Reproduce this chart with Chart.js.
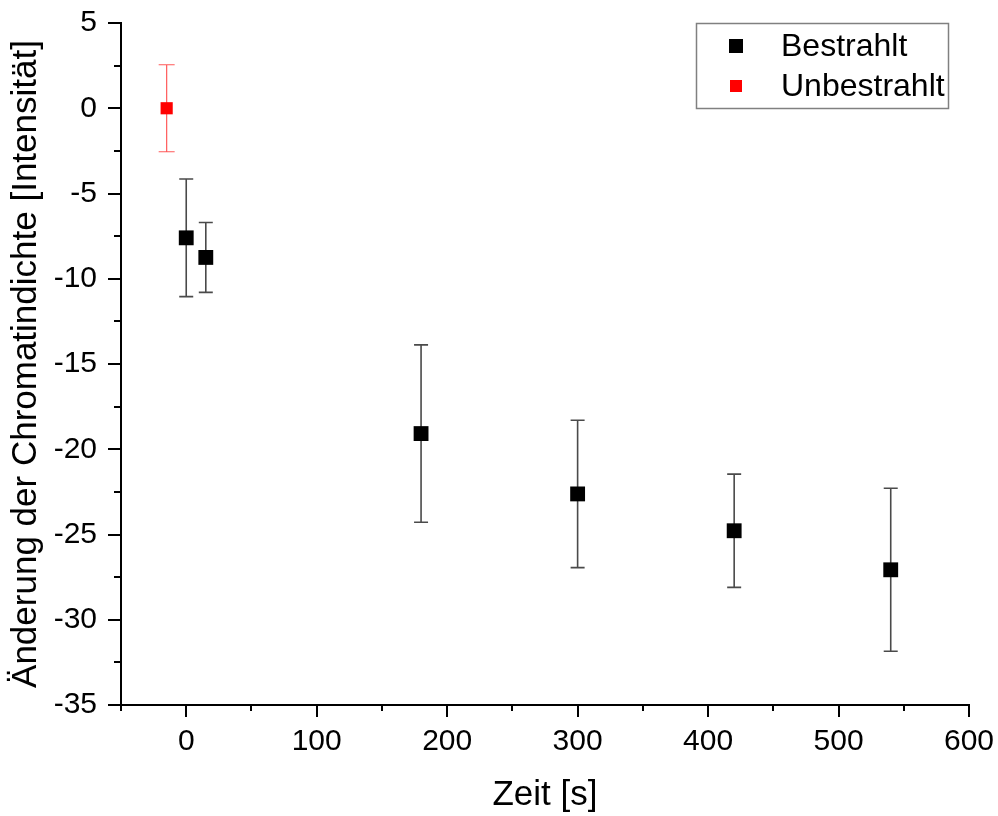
<!DOCTYPE html>
<html>
<head>
<meta charset="utf-8">
<script src="https://cdn.jsdelivr.net/npm/chart.js@4"></script>
<style>
  body { margin: 0; background: #fff; }
  canvas { display: block; }
</style>
</head>
<body>
<canvas id="chart" width="998" height="816"></canvas>
<script>
// Bestrahlt (irradiated) series
const bestrahltZeit = [0, 15, 180, 300, 420, 540];
const bestrahltWert = [-7.6, -8.75, -19.08, -22.62, -24.78, -27.07];
const bestrahltFehler = [3.45, 2.05, 5.2, 4.32, 3.32, 4.78];

// Unbestrahlt (control) series
const unbestrahltZeit = [-15];
const unbestrahltWert = [0];
const unbestrahltFehler = [2.55];

const FONT = '"Liberation Sans", Arial, sans-serif';

function toPoints(xs, ys, errs) {
  return xs.map((x, i) => ({ x: x, y: ys[i], err: errs[i] }));
}

// draw vertical error bars with caps, before the markers
const errorBars = {
  id: 'errorBars',
  beforeDatasetsDraw(chart) {
    const ctx = chart.ctx;
    const xs = chart.scales.x, ys = chart.scales.y;
    chart.data.datasets.forEach((ds) => {
      ctx.save();
      ctx.strokeStyle = ds.errorColor;
      ctx.lineWidth = ds.errorWidth;
      ds.data.forEach((p) => {
        const px = xs.getPixelForValue(p.x);
        const top = ys.getPixelForValue(p.y + p.err);
        const bot = ys.getPixelForValue(p.y - p.err);
        const c = ds.capHalf;
        ctx.beginPath();
        ctx.moveTo(px, top); ctx.lineTo(px, bot);
        ctx.moveTo(px - c, top); ctx.lineTo(px + c, top);
        ctx.moveTo(px - c, bot); ctx.lineTo(px + c, bot);
        ctx.stroke();
      });
      ctx.restore();
    });
  }
};

// outward major/minor tick marks like the origin plot
const tickMarks = {
  id: 'tickMarks',
  afterDraw(chart) {
    const ctx = chart.ctx;
    const xs = chart.scales.x, ys = chart.scales.y;
    const area = chart.chartArea;
    ctx.save();
    ctx.strokeStyle = '#000';
    ctx.lineWidth = 2;
    ctx.beginPath();
    for (let v = ys.min; v <= ys.max + 1e-9; v += 2.5) {
      const py = Math.round(ys.getPixelForValue(v));
      const len = (Math.abs(v % 5) < 1e-9) ? 13 : 7;
      ctx.moveTo(area.left, py); ctx.lineTo(area.left - len, py);
    }
    for (let v = xs.min; v <= xs.max + 1e-9; v += 50) {
      const px = Math.round(xs.getPixelForValue(v));
      const len = (Math.abs(v % 100) < 1e-9) ? 12 : 6;
      ctx.moveTo(px, area.bottom); ctx.lineTo(px, area.bottom + len);
    }
    ctx.stroke();
    ctx.restore();
  }
};

// boxed legend in the top right corner
const boxLegend = {
  id: 'boxLegend',
  afterDraw(chart) {
    const ctx = chart.ctx;
    const area = chart.chartArea;
    const w = 252, h = 85;
    const bx = area.right - 21 - w, by = area.top;
    ctx.save();
    ctx.fillStyle = '#fff';
    ctx.fillRect(bx, by, w, h);
    ctx.strokeStyle = '#808080';
    ctx.lineWidth = 1.5;
    ctx.strokeRect(bx + 0.5, by + 0.5, w, h);
    ctx.font = '32px ' + FONT;
    ctx.textBaseline = 'middle';
    ctx.textAlign = 'left';
    chart.data.datasets.forEach((ds, i) => {
      const cy = by + 23 + i * 40;
      const s = ds.legendSize;
      ctx.fillStyle = ds.backgroundColor;
      ctx.fillRect(bx + 40 - s / 2, cy - s / 2, s, s);
      ctx.fillStyle = '#000';
      ctx.fillText(ds.label, bx + 85, cy + 1);
    });
    ctx.restore();
  }
};

new Chart(document.getElementById('chart'), {
  type: 'scatter',
  data: {
    datasets: [
      {
        label: 'Bestrahlt',
        data: toPoints(bestrahltZeit, bestrahltWert, bestrahltFehler),
        backgroundColor: '#000000',
        borderColor: '#000000',
        pointStyle: 'rect',
        pointRadius: 10.5,
        pointBorderWidth: 0,
        errorColor: '#4a4a4a',
        errorWidth: 1.6,
        capHalf: 7,
        legendSize: 14,
      },
      {
        label: 'Unbestrahlt',
        data: toPoints(unbestrahltZeit, unbestrahltWert, unbestrahltFehler),
        backgroundColor: '#ff0000',
        borderColor: '#ff0000',
        pointStyle: 'rect',
        pointRadius: 8.6,
        pointBorderWidth: 0,
        errorColor: '#ff5a5a',
        errorWidth: 1.2,
        capHalf: 8,
        legendSize: 12,
      },
    ],
  },
  options: {
    responsive: false,
    animation: false,
    layout: { padding: { top: 23, right: 29, left: 0, bottom: 0 } },
    plugins: {
      legend: { display: false },
      tooltip: { enabled: false },
    },
    scales: {
      x: {
        type: 'linear',
        min: -50,
        max: 600,
        grid: { display: false },
        border: { display: true, color: '#000', width: 2 },
        ticks: {
          stepSize: 100,
          includeBounds: false,
          padding: 11,
          color: '#000',
          font: { family: FONT, size: 30 },
          maxRotation: 0,
        },
        title: {
          display: true,
          text: 'Zeit [s]',
          color: '#000',
          font: { family: FONT, size: 35 },
          padding: { top: 0, bottom: 0 },
        },
        afterFit(scale) {
          scale.height = 111;
          scale.paddingLeft = 0;
          scale.paddingRight = 0;
        },
      },
      y: {
        type: 'linear',
        min: -35,
        max: 5,
        grid: { display: false },
        border: { display: true, color: '#000', width: 2 },
        ticks: {
          stepSize: 5,
          padding: 16,
          color: '#000',
          font: { family: FONT, size: 30 },
        },
        title: {
          display: true,
          text: 'Änderung der Chromatindichte [Intensität]',
          color: '#000',
          font: { family: FONT, size: 35 },
          padding: { top: 5, bottom: 0 },
        },
        afterFit(scale) {
          scale.width = 121;
          scale.paddingTop = 0;
          scale.paddingBottom = 0;
        },
      },
    },
  },
  plugins: [errorBars, tickMarks, boxLegend],
});
</script>
</body>
</html>
